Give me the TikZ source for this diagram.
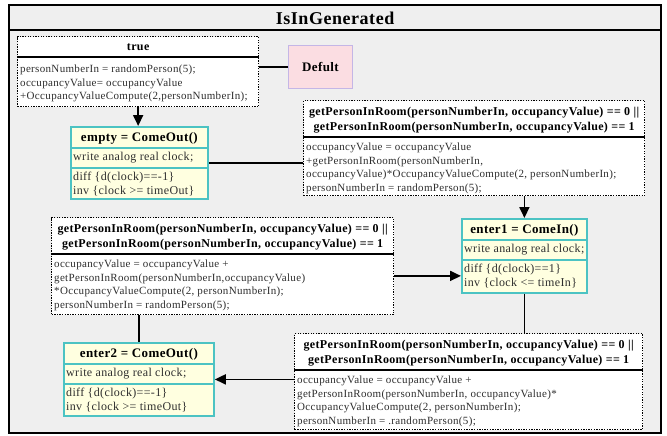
\documentclass[tikz,border=0pt]{standalone}
\usepackage{fontspec}
\setmainfont{Liberation Serif}[LetterSpace=3]
\usetikzlibrary{arrows.meta,calc}
\definecolor{bg}{HTML}{EFEFEF}
\definecolor{stfill}{HTML}{FFFFE0}
\definecolor{stline}{HTML}{4CC3C3}
\definecolor{pinkf}{HTML}{FBDDE2}
\definecolor{lav}{HTML}{C4B6E6}
\definecolor{txt}{HTML}{2E2E2E}
\tikzset{
  outerframe/.style={draw=black, line width=2.2pt, fill=bg, inner sep=0pt, anchor=north west},
  titlesep/.style={draw=black, line width=1.6pt},
  guard/.style={draw=black, fill=white, line width=1.3pt, dash pattern=on 1.3pt off 1.3pt, inner sep=0pt, anchor=north west},
  statebox/.style={draw=stline, fill=stfill, line width=1.8pt, inner sep=0pt, anchor=north west},
  defbox/.style={draw=lav, fill=pinkf, line width=0.9pt, inner sep=0pt, anchor=north west},
  titletxt/.style={font=\bfseries\fontsize{18}{20}\selectfont, inner sep=0pt},
  hd/.style={font=\bfseries\fontsize{12}{14.5}\selectfont, align=center, inner sep=0pt},
  sthd/.style={font=\bfseries\fontsize{13}{15}\selectfont, inner sep=0pt},
  bodytxt/.style={font=\fontsize{11}{13.5}\selectfont, text=txt, align=left, inner sep=0pt, anchor=north west},
  sttxt/.style={font=\fontsize{12}{14}\selectfont, text=txt, align=left, inner sep=0pt, anchor=north west},
  gsep/.style={draw=black, line width=1.8pt},
  ssep/.style={draw=stline, line width=1.8pt},
  conn/.style={draw=black, line width=1.8pt},
  arr/.style={conn, -{Triangle[length=11pt,width=10pt]}},
}
\begin{document}
\begin{tikzpicture}[x=1pt,y=-1pt]
\useasboundingbox (0,0) rectangle (667,436);
% outer frame
\node[outerframe, minimum width=652pt, minimum height=428pt] (frame) at (8,4) {};
\draw[titlesep] ($(frame.north west)+(0,26)$) -- ($(frame.north east)+(0,26)$);
\node[titletxt] (title) at ($(frame.north)+(0,14)$) {IsInGenerated};

% true box
\node[guard, minimum width=241pt, minimum height=70pt] (tb) at (17,36) {};
\node[hd] (tbh) at ($(tb.north)+(0,11)$) {true};
\draw[gsep] ($(tb.north west)+(0,21)$) -- ($(tb.north east)+(0,21)$);
\node[bodytxt] (tbb) at ($(tb.north west)+(3,29)$) {personNumberIn = randomPerson(5);\\occupancyValue= occupancyValue\\+OccupancyValueCompute(2,personNumberIn);};

% Defult
\node[defbox, minimum width=64pt, minimum height=43pt] (df) at (288,45) {};
\node[hd, font=\bfseries\fontsize{13}{15}\selectfont] (dft) at (df.center) {Defult};

% empty
\node[statebox, minimum width=137pt, minimum height=72pt] (em) at (70,126) {};
\node[sthd] (emh) at ($(em.north)+(0,12)$) {empty = ComeOut()};
\draw[ssep] ($(em.north west)+(0,22)$) -- ($(em.north east)+(0,22)$);
\node[sttxt, anchor=west] (emw) at ($(em.north west)+(3,32)$) {write analog real clock;};
\draw[ssep] ($(em.north west)+(0,42)$) -- ($(em.north east)+(0,42)$);
\node[sttxt] (emd) at ($(em.north west)+(3,46)$) {diff \{d(clock)==-1\}\\inv \{clock >= timeOut\}};

% guard 1
\node[guard, minimum width=341pt, minimum height=95pt] (g1) at (303,100) {};
\node[hd] (g1h) at ($(g1.north)+(0,20)$) {getPersonInRoom(personNumberIn, occupancyValue) == 0 ||\\getPersonInRoom(personNumberIn, occupancyValue) == 1};
\draw[gsep] ($(g1.north west)+(0,37)$) -- ($(g1.north east)+(0,37)$);
\node[bodytxt] (g1b) at ($(g1.north west)+(3,43)$) {occupancyValue = occupancyValue\\+getPersonInRoom(personNumberIn,\\occupancyValue)*OccupancyValueCompute(2, personNumberIn);\\personNumberIn = randomPerson(5);};

% enter1
\node[statebox, minimum width=125pt, minimum height=74pt] (e1) at (461,218) {};
\node[sthd] (e1h) at ($(e1.north)+(0,12)$) {enter1 = ComeIn()};
\draw[ssep] ($(e1.north west)+(0,22)$) -- ($(e1.north east)+(0,22)$);
\node[sttxt, anchor=west] (e1w) at ($(e1.north west)+(3,32)$) {write analog real clock;};
\draw[ssep] ($(e1.north west)+(0,42)$) -- ($(e1.north east)+(0,42)$);
\node[sttxt] (e1d) at ($(e1.north west)+(3,46)$) {diff \{d(clock)==1\}\\inv \{clock <= timeIn\}};

% guard 2
\node[guard, minimum width=342pt, minimum height=97pt] (g2) at (51,217) {};
\node[hd] (g2h) at ($(g2.north)+(0,20)$) {getPersonInRoom(personNumberIn, occupancyValue) == 0 ||\\getPersonInRoom(personNumberIn, occupancyValue) == 1};
\draw[gsep] ($(g2.north west)+(0,37)$) -- ($(g2.north east)+(0,37)$);
\node[bodytxt] (g2b) at ($(g2.north west)+(3,43)$) {occupancyValue = occupancyValue +\\getPersonInRoom(personNumberIn,occupancyValue)\\*OccupancyValueCompute(2, personNumberIn);\\personNumberIn = randomPerson(5);};

% enter2
\node[statebox, minimum width=150pt, minimum height=73pt] (e2) at (63,342) {};
\node[sthd] (e2h) at ($(e2.north)+(0,12)$) {enter2 = ComeOut()};
\draw[ssep] ($(e2.north west)+(0,22)$) -- ($(e2.north east)+(0,22)$);
\node[sttxt, anchor=west] (e2w) at ($(e2.north west)+(3,32)$) {write analog real clock;};
\draw[ssep] ($(e2.north west)+(0,42)$) -- ($(e2.north east)+(0,42)$);
\node[sttxt] (e2d) at ($(e2.north west)+(3,46)$) {diff \{d(clock)==-1\}\\inv \{clock >= timeOut\}};

% guard 3
\node[guard, minimum width=348pt, minimum height=96pt] (g3) at (294,333) {};
\node[hd] (g3h) at ($(g3.north)+(0,20)$) {getPersonInRoom(personNumberIn, occupancyValue) == 0 ||\\getPersonInRoom(personNumberIn, occupancyValue) == 1};
\draw[gsep] ($(g3.north west)+(0,37)$) -- ($(g3.north east)+(0,37)$);
\node[bodytxt] (g3b) at ($(g3.north west)+(3,43)$) {occupancyValue = occupancyValue +\\getPersonInRoom(personNumberIn, occupancyValue)*\\OccupancyValueCompute(2, personNumberIn);\\personNumberIn = .randomPerson(5);};

% connectors
\coordinate (e1in) at ($(e1.west)+(0,20)$);
\draw[conn] (df.west) -- (df.west -| tb.east);
\draw[arr] (tb.south) -- (tb.south |- em.north);
\draw[conn] (em.east) -- (em.east -| g1.west);
\draw[arr] (e1.north |- g1.south) -- (e1.north);
\draw[arr] (e1in -| g2.east) -- (e1in);
\draw[conn] (e1.south) -- (e1.south |- g3.north);
\draw[conn] (e2.north |- g2.south) -- (e2.north);
\draw[arr] (e2.east -| g3.west) -- (e2.east);
\end{tikzpicture}
\end{document}
